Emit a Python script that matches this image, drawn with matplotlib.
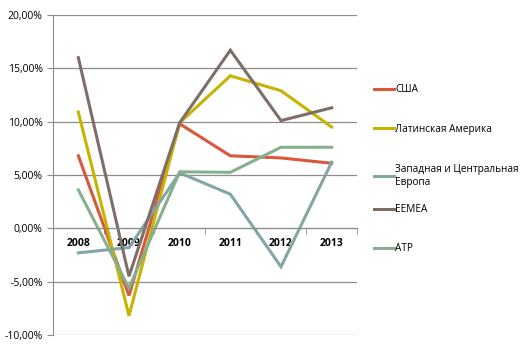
import matplotlib.pyplot as plt
import numpy as np

# Data #
years = ['2008', '2009', '2010', '2011', '2012', '2013']
usa = [6.8, -6.3, 9.8, 6.8, 6.6, 6.1]
latam = [10.9, -8.2, 9.9, 14.3, 12.9, 9.5]
west_europe = [-2.3, -1.8, 5.2, 3.2, -3.6, 6.2]
eemea = [16.0, -4.5, 9.9, 16.7, 10.1, 11.3]
apac = [3.6, -5.6, 5.3, 5.25, 7.6, 7.6]

labels = ['США', 'Латинская Америка', 'Западная и Центральная\nЕвропа', 'EEMEA', 'АТР']
colors = ['#D9573B', '#C8B400', '#82A6A4', '#7E6E69', '#84B18C']

# top pixel row of each legend entry #
legend_tops = [84, 124, 164, 204, 243]

plt.rcParams['font.family'] = ['Open Sans', 'DejaVu Sans']

fig = plt.figure(figsize=(5.26, 3.51), dpi=100)
ax = fig.add_axes([53/526, 1 - 335/351, 304/526, 320/351])

x = np.arange(len(years))
series = [usa, latam, west_europe, eemea, apac]
lines = []
for vals, lab, c in zip(series, labels, colors):
    ln, = ax.plot(x, vals, color=c, linewidth=2.2, label=lab, solid_joinstyle='miter')
    lines.append(ln)

ax.set_xlim(-0.5, len(years) - 0.5)
ax.set_ylim(-10, 20)
ax.set_yticks(np.arange(-10, 21, 5))
ax.set_yticklabels([('%.2f%%' % v).replace('.', ',') for v in np.arange(-10, 21, 5)], fontsize=7.5)
ax.grid(axis='y', color='#8C8C8C', linewidth=0.9)
ax.set_axisbelow(True)

# Category axis sits on zero #
ax.spines['bottom'].set_position(('data', 0))
ax.spines['top'].set_visible(False)
ax.spines['right'].set_visible(False)
ax.spines['left'].set_color('#8C8C8C')
ax.spines['bottom'].set_color('#8C8C8C')
ax.set_xticks(x)
ax.set_xticklabels(years, fontsize=7.5, fontweight='bold')
ax.set_xticks(np.arange(-0.5, len(years), 1), minor=True)
ax.tick_params(axis='x', which='major', length=0, pad=7)
ax.tick_params(axis='x', which='minor', length=4, color='#8C8C8C', direction='out')
ax.tick_params(axis='y', length=4, color='#8C8C8C')

# One legend per entry so the uneven spacing of the original is kept #
for ln, lab, top in zip(lines, labels, legend_tops):
    leg = fig.legend([ln], [lab], loc='upper left', bbox_to_anchor=(374/526, 1 - top/351),
                     frameon=False, fontsize=7.2, handlelength=2.0, handletextpad=0.1,
                     borderaxespad=0, borderpad=0)

plt.savefig('out.png', dpi=100)
